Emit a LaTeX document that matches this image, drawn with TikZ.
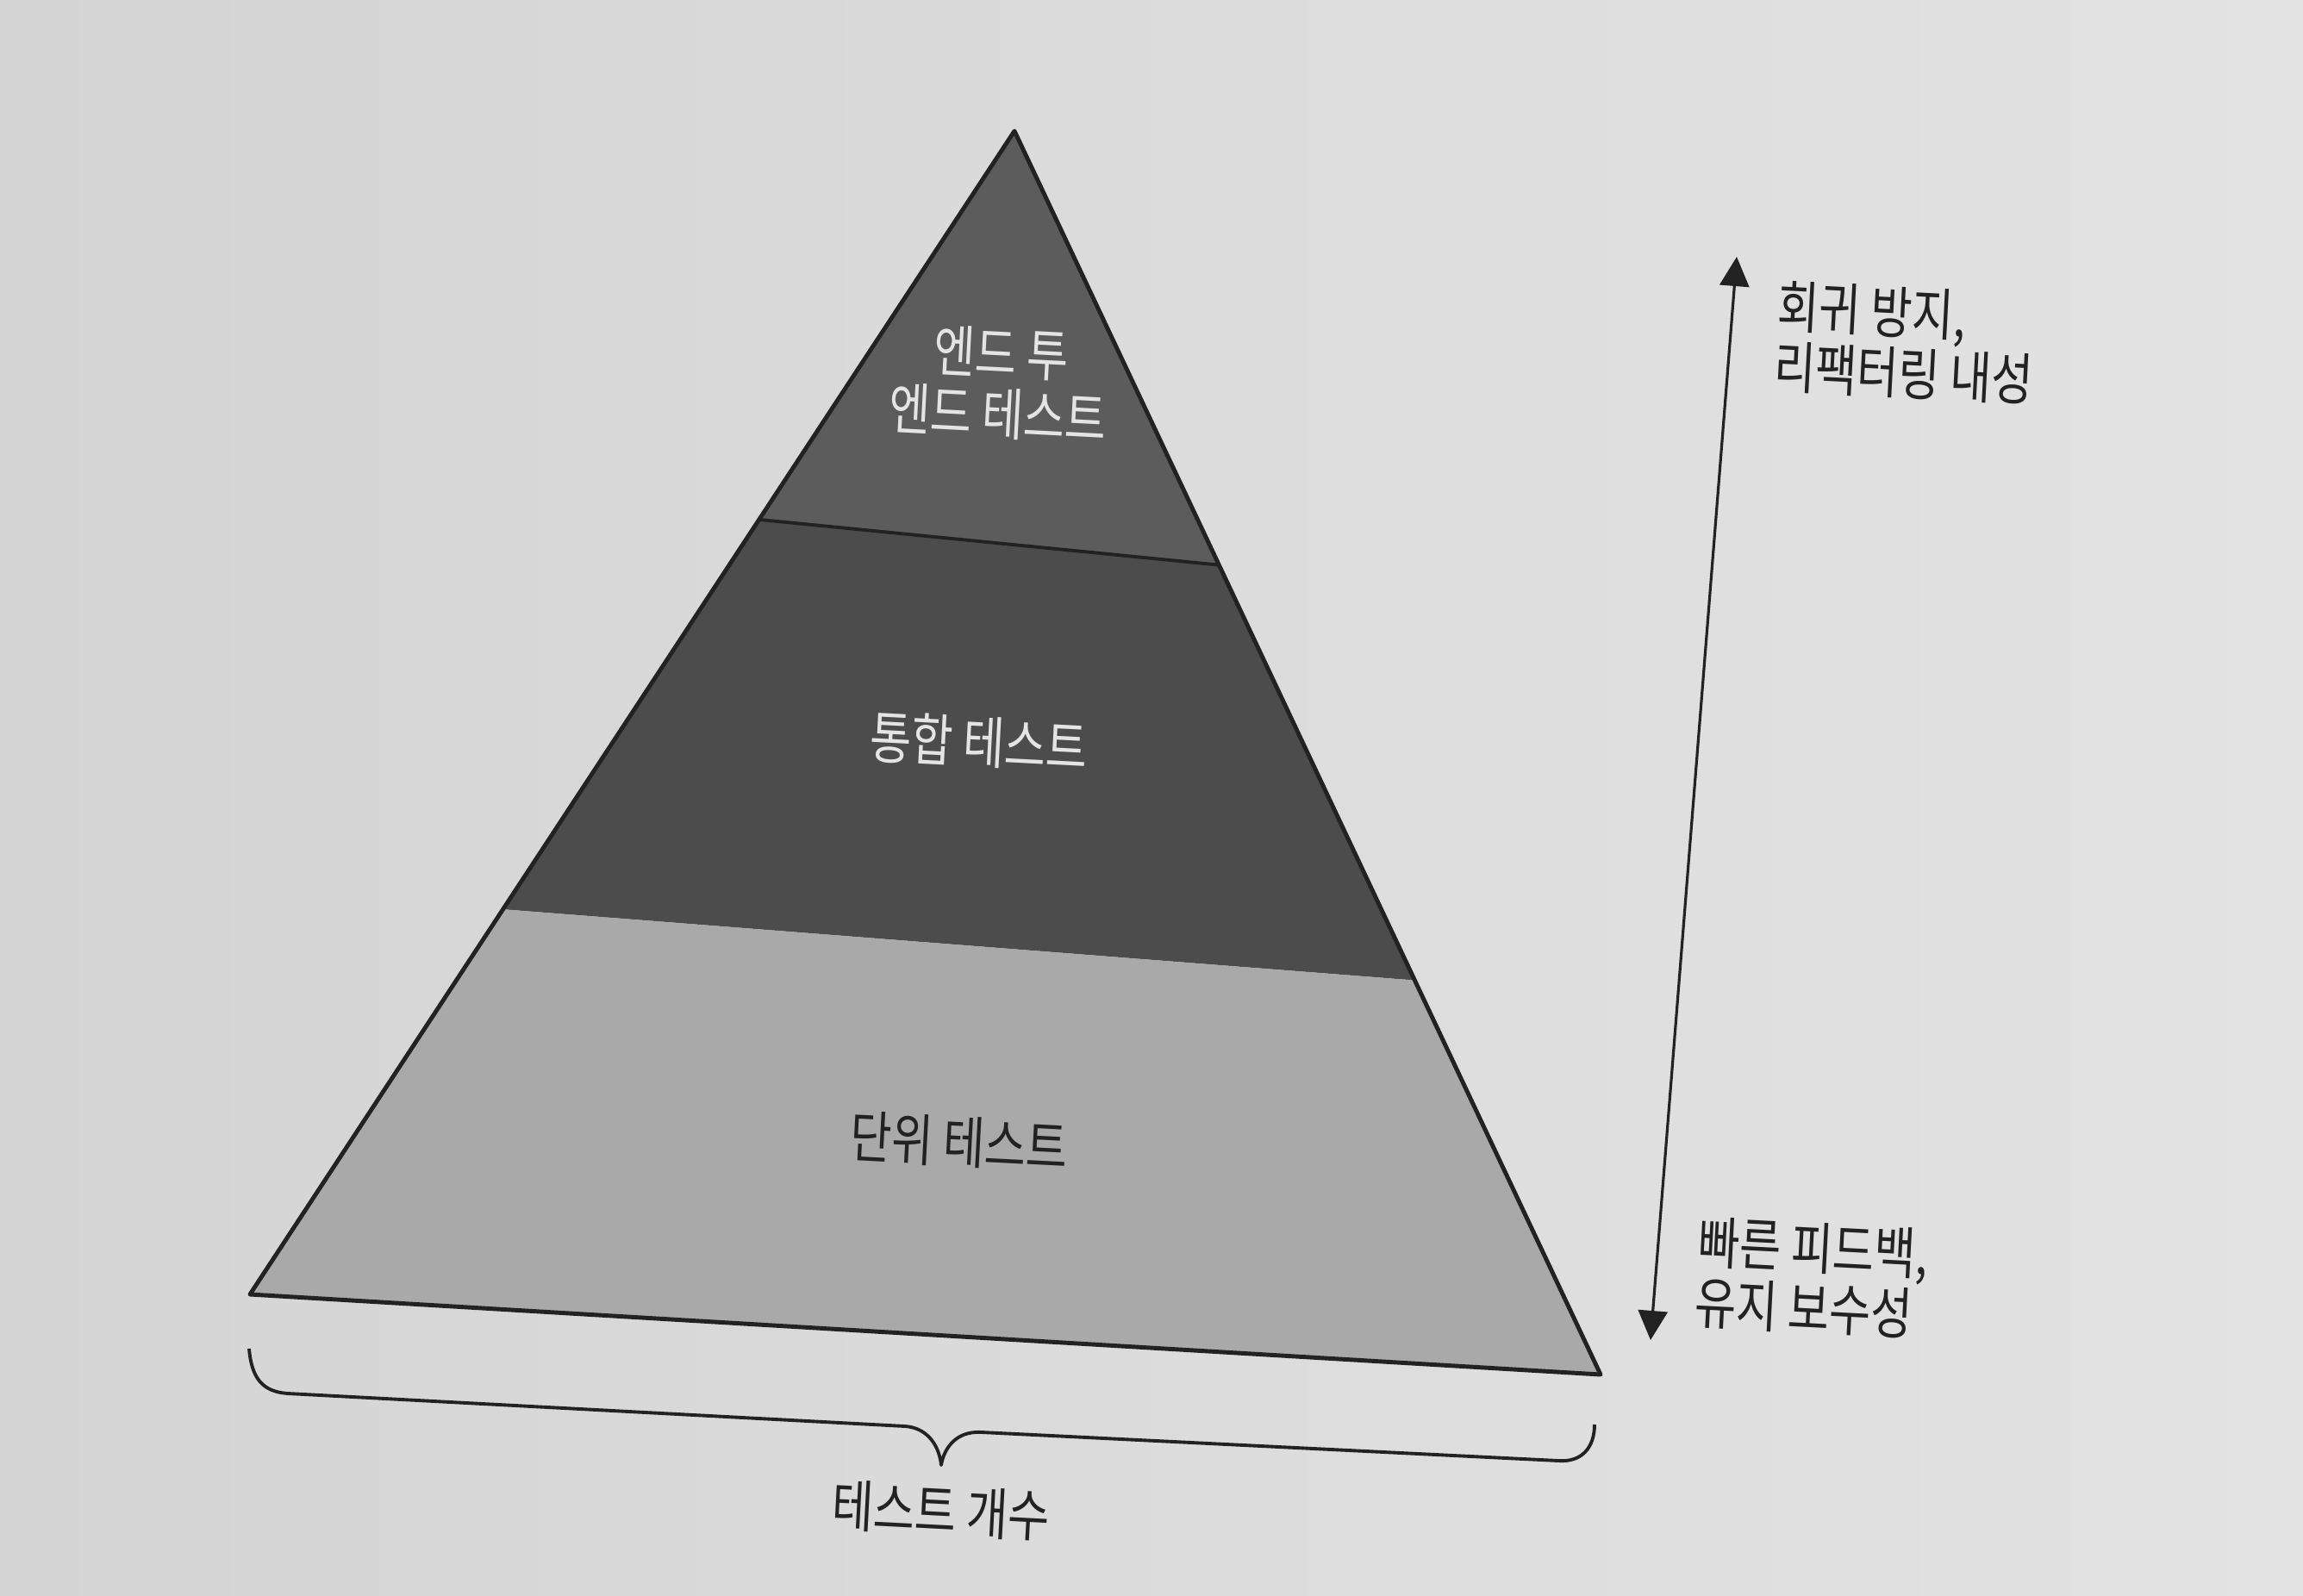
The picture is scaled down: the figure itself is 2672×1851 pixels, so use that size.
\documentclass[tikz,border=0pt]{standalone}
\usepackage{fontspec}
\newfontfamily\kr[FakeStretch=0.8]{Noto Sans CJK KR}
\usetikzlibrary{arrows.meta,calc}
\definecolor{pageL}{HTML}{D4D4D4}
\definecolor{pageR}{HTML}{E3E3E3}
\definecolor{layerTop}{HTML}{5C5C5C}
\definecolor{layerMid}{HTML}{4C4C4C}
\definecolor{layerBot}{HTML}{A9A9A9}
\definecolor{ink}{HTML}{222222}
\definecolor{inkLight}{HTML}{E4E4E4}
\begin{document}
\begin{tikzpicture}[x=0.01cm,y=-0.01cm,
  lbl/.style={font=\kr\fontsize{18.6}{20}\selectfont, rotate=-3, inner sep=0pt, align=center, text=ink},
  lbllight/.style={lbl, text=inkLight},
  side/.style={lbl, align=left, anchor=west},
  outline/.style={draw=ink, line width=1.4pt, line join=round},
  divider/.style={draw=ink, line width=1.1pt},
  dblarrow/.style={draw=ink, line width=0.9pt, {Triangle[length=0.34cm,width=0.34cm]}-{Triangle[length=0.34cm,width=0.34cm]}},
  bracepath/.style={draw=ink, line width=1.1pt, line join=round}]
\shade[left color=pageL, right color=pageR] (0,0) rectangle (2672,1851);
\useasboundingbox (0,0) rectangle (2672,1851);

% pyramid corners
\coordinate (apex) at (1177,152);
\coordinate (bl) at (290,1502);
\coordinate (br) at (1857,1595);
\coordinate (l1) at ($(apex)!0.334!(bl)$);
\coordinate (r1) at ($(apex)!0.349!(br)$);
\coordinate (l2) at ($(apex)!0.669!(bl)$);
\coordinate (r2) at ($(apex)!0.683!(br)$);

\fill[layerTop] (apex) -- (l1) -- (r1) -- cycle;
\fill[layerMid] (l1) -- (l2) -- (r2) -- (r1) -- cycle;
\fill[layerBot] (l2) -- (bl) -- (br) -- (r2) -- cycle;
\draw[divider] (l1) -- (r1);
\draw[outline] (apex) -- (bl) -- (br) -- cycle;

% layer labels
\node[lbllight] (e2e) at (1160,445) {엔드 투\\엔드 테스트};
\node[lbllight] (integ) at (1136,861) {통합 테스트};
\node[lbl] (unit) at (1113,1325) {단위 테스트};

% double arrow
\coordinate (atop) at (2015,298);
\coordinate (abot) at (1915,1555);
\draw[dblarrow] (atop) -- (abot);
\node[side] (upper) at (2060,390) {회귀 방지,\\리팩터링 내성};
\node[side] (lower) at (1968,1476) {빠른 피드백,\\유지 보수성};

% brace
\coordinate (b0) at (289,1565);
\coordinate (b1) at (334,1617);
\coordinate (b2) at (1050,1655);
\coordinate (bt) at (1092,1700);
\coordinate (b3) at (1139,1662);
\coordinate (b4) at (1808,1695);
\coordinate (b5) at (1850,1653);
\draw[bracepath] (b0) .. controls (292,1600) and (305,1615) .. (b1)
  -- (b2) .. controls (1078,1657) and (1090,1680) .. (bt)
  .. controls (1095,1682) and (1108,1660) .. (b3)
  -- (b4) .. controls (1835,1697) and (1850,1680) .. (b5);
\node[lbl] (count) at (1092,1753) {테스트 개수};
\end{tikzpicture}
\end{document}
